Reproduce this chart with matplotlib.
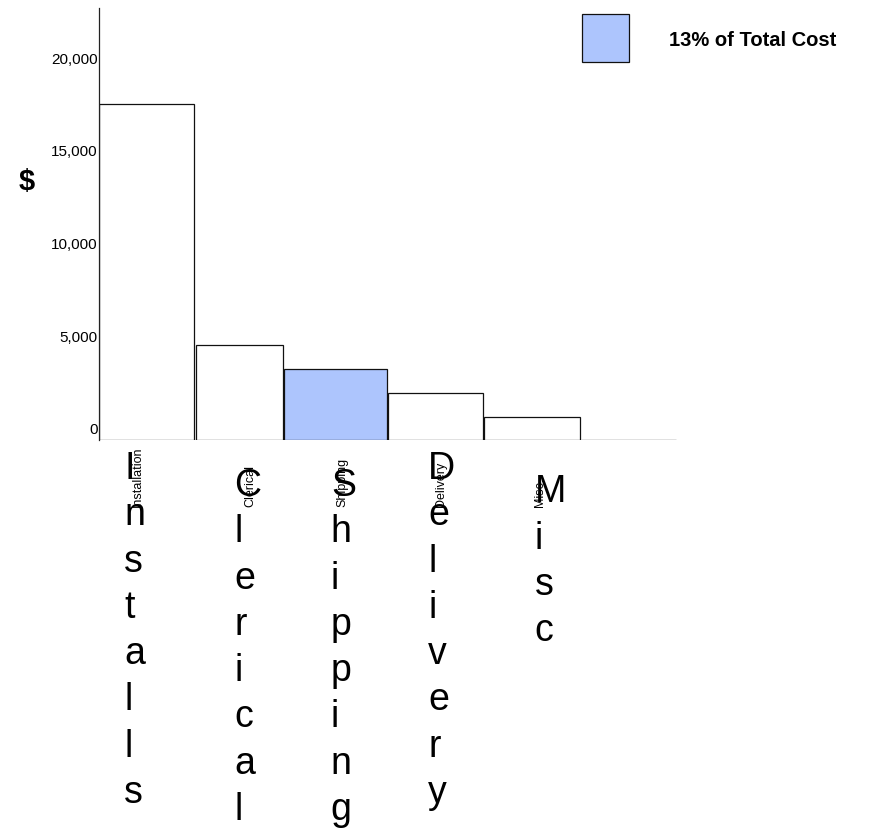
"""Cost breakdown bar chart, shipping highlighted as share of total."""
import matplotlib
matplotlib.use("Agg")
import matplotlib.pyplot as plt
from matplotlib.patches import Rectangle
from matplotlib.transforms import blended_transform_factory, ScaledTranslation
import numpy as np

plt.rcParams['font.family'] = ['Liberation Sans', 'DejaVu Sans']

# data
categories = ['Installation', 'Clerical', 'Shipping', 'Delivery', 'Misc.', '']
big_labels = ['Installs', 'Clerical', 'Shipping', 'Delivery', 'Misc', '']
costs = [18160, 5135, 3820, 2540, 1200, 0]
highlight = 'Shipping'
legend_text = '13% of Total Cost'
yticks = [0, 5000, 10000, 15000, 20000]

# layout
bar_widths = [1.0, 0.92, 1.08, 1.0, 1.0, 1.0]
gap = 0.012
small_dx = [-0.10, 0.105, 0.06, 0.05, 0.08, 0]     # small label offset from bar centre
big_dx = [-0.24, -0.055, -0.055, -0.085, 0.02, 0]   # big label left edge offset
big_y = [490, 507, 507, 490, 507, 507]              # first baseline, pixels from top
line_px = 44.7
W, H = 869, 831
hl_color = '#adc5fd'

fig = plt.figure(figsize=(W / 100, H / 100), dpi=100)
ax = fig.add_axes([99.3 / W, 1 - 439.5 / H, (677 - 99.3) / W, 431.5 / H])

lefts = np.concatenate([[0], np.cumsum(bar_widths)[:-1]])
colors = [hl_color if c == highlight else 'white' for c in categories]
ax.bar(lefts, costs, width=np.array(bar_widths) - gap, align='edge',
       color=colors, edgecolor='#111111', linewidth=0.9)

ax.set_xlim(0, sum(bar_widths))
ax.set_ylim(0, 20000 * 431.5 / 370)
ax.set_yticks(yticks)
ax.set_yticklabels(['{:,}'.format(v) for v in yticks], fontsize=11)
ax.tick_params(axis='y', length=0, pad=1)
ax.set_xticks([])
for lab in ax.get_yticklabels():
    lab.set_transform(lab.get_transform() + ScaledTranslation(0, 11 / 100, fig.dpi_scale_trans))
for s in ['top', 'right', 'bottom']:
    ax.spines[s].set_visible(False)
ax.spines['left'].set_color('#222222')
ax.spines['left'].set_linewidth(0.9)

# category labels below the bars
tr = blended_transform_factory(ax.transData, fig.transFigure)
centers = lefts + np.array(bar_widths) / 2
for i, name in enumerate(categories):
    if not name:
        continue
    ax.text(centers[i] + small_dx[i], 1 - 507 / H, name, transform=tr,
            rotation=90, ha='center', va='bottom', fontsize=9)
    word = big_labels[i]
    last_base = big_y[i] + (len(word) - 1) * line_px
    ax.text(centers[i] + big_dx[i], 1 - last_base / H, '\n'.join(word), transform=tr,
            ha='left', va='baseline', fontsize=27, linespacing=1.366)

fig.text(27 / W, 1 - 182 / H, '$', fontsize=21, fontweight='bold', ha='center', va='center')

# legend box
fig.add_artist(Rectangle((582 / W, 1 - 62 / H), 47 / W, 48 / H, transform=fig.transFigure,
                         facecolor=hl_color, edgecolor='#111111', linewidth=0.9))
fig.text(669 / W, 1 - 40 / H, legend_text, fontsize=14.5, fontweight='bold', va='center')

fig.savefig('out.png', dpi=100)
